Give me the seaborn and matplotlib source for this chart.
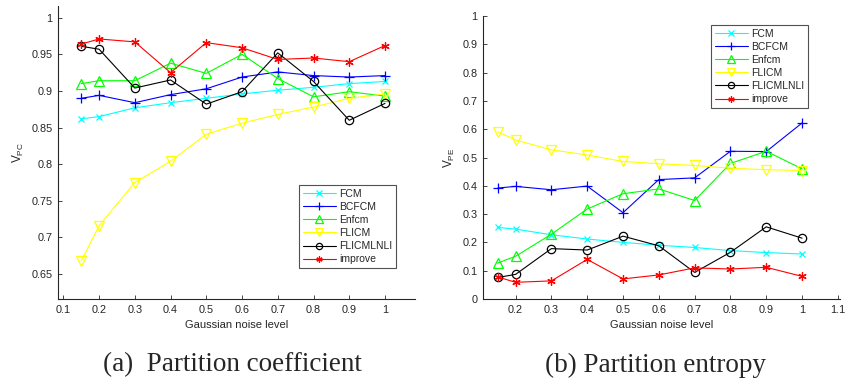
import numpy as np
import pandas as pd
import seaborn as sns
import matplotlib
matplotlib.use("Agg")
import matplotlib.pyplot as plt
from matplotlib.ticker import FuncFormatter

noise = [0.15, 0.2, 0.3, 0.4, 0.5, 0.6, 0.7, 0.8, 0.9, 1.0]
methods = ["FCM", "BCFCM", "Enfcm", "FLICM", "FLICMLNLI", "improve"]

# partition coefficient
pc_fcm = [0.862, 0.865, 0.877, 0.884, 0.890, 0.896, 0.901, 0.905, 0.910, 0.913]
pc_bcfcm = [0.890, 0.894, 0.884, 0.895, 0.903, 0.919, 0.926, 0.921, 0.919, 0.921]
pc_enfcm = [0.910, 0.914, 0.914, 0.938, 0.924, 0.950, 0.917, 0.892, 0.899, 0.893]
pc_flicm = [0.668, 0.716, 0.775, 0.804, 0.841, 0.856, 0.868, 0.878, 0.890, 0.896]
pc_flicmlnli = [0.961, 0.957, 0.904, 0.915, 0.882, 0.899, 0.952, 0.913, 0.860, 0.883]
pc_improve = [0.964, 0.971, 0.967, 0.925, 0.966, 0.959, 0.943, 0.945, 0.940, 0.962]

# partition entropy
pe_fcm = [0.253, 0.247, 0.227, 0.212, 0.200, 0.190, 0.182, 0.171, 0.164, 0.159]
pe_bcfcm = [0.392, 0.398, 0.386, 0.399, 0.305, 0.422, 0.428, 0.522, 0.521, 0.622]
pe_enfcm = [0.127, 0.151, 0.229, 0.318, 0.372, 0.389, 0.348, 0.479, 0.522, 0.460]
pe_flicm = [0.591, 0.562, 0.527, 0.509, 0.486, 0.478, 0.472, 0.462, 0.457, 0.454]
pe_flicmlnli = [0.076, 0.087, 0.178, 0.173, 0.222, 0.188, 0.094, 0.165, 0.255, 0.215]
pe_improve = [0.078, 0.059, 0.064, 0.140, 0.071, 0.085, 0.110, 0.106, 0.112, 0.080]

colors = ["#00ffff", "#0000ff", "#00ff00", "#ffff00", "#000000", "#ff0000"]
markers = ["x", "+", "^", "v", "o", (6, 2, 0)]
msizes = [5, 7, 7, 7, 6, 6]

sns.set_style("ticks", {"xtick.direction": "in", "ytick.direction": "in",
                        "axes.edgecolor": "#262626"})
plt.rcParams["font.family"] = ["Liberation Sans", "DejaVu Sans"]
plt.rcParams["mathtext.fontset"] = "custom"
plt.rcParams["mathtext.rm"] = "Liberation Sans"
plt.rcParams["mathtext.default"] = "regular"

fig = plt.figure(figsize=(8.54, 3.81), dpi=100)
ax1 = fig.add_axes([58 / 854, 1 - 299 / 381, 357 / 854, 293 / 381])
ax2 = fig.add_axes([483 / 854, 1 - 299 / 381, 357 / 854, 283 / 381])


def draw(ax, series):
    for name, vals, c, m, ms in zip(methods, series, colors, markers, msizes):
        sns.lineplot(x=noise, y=vals, ax=ax, color=c, marker=m, mec=c,
                     mfc="none", mew=0.9, ms=ms, lw=0.8, label=name)
    for side in ["top", "right"]:
        ax.spines[side].set_visible(False)
    for side in ["left", "bottom"]:
        ax.spines[side].set_linewidth(0.8)
        ax.spines[side].set_color("#262626")
    ax.tick_params(labelsize=7.8, colors="#262626", length=3, width=0.6, pad=4,
                   top=False, right=False)
    fmt = FuncFormatter(lambda v, p: "%g" % round(v, 2))
    ax.xaxis.set_major_formatter(fmt)
    ax.yaxis.set_major_formatter(fmt)
    ax.set_xlabel("Gaussian noise level", fontsize=8, color="#262626")


draw(ax1, [pc_fcm, pc_bcfcm, pc_enfcm, pc_flicm, pc_flicmlnli, pc_improve])
ax1.set_xlim(0.085, 1.084)
ax1.set_ylim(0.616, 1.016)
ax1.set_xticks(np.arange(0.1, 1.01, 0.1))
ax1.set_yticks(np.arange(0.65, 1.001, 0.05))
ax1.set_ylabel("V$_{PC}$", fontsize=8.5, color="#262626", labelpad=4)

draw(ax2, [pe_fcm, pe_bcfcm, pe_enfcm, pe_flicm, pe_flicmlnli, pe_improve])
ax2.set_xlim(0.109, 1.106)
ax2.set_ylim(0, 1)
ax2.set_xticks(np.arange(0.2, 1.101, 0.1))
ax2.set_yticks(np.arange(0, 1.001, 0.1))
ax2.set_ylabel("V$_{PE}$", fontsize=8.5, color="#262626", labelpad=4)

leg_kw = dict(fontsize=7.5, frameon=True, fancybox=False, labelspacing=0.3,
              handlelength=3.2, handletextpad=0.3, borderpad=0.35,
              borderaxespad=0, edgecolor="#262626", markerscale=0.75)
l1 = ax1.legend(loc="lower right", bbox_to_anchor=(396 / 854, 1 - 268 / 381),
                bbox_transform=fig.transFigure, **leg_kw)
l2 = ax2.legend(loc="upper right", bbox_to_anchor=(808 / 854, 1 - 25 / 381),
                bbox_transform=fig.transFigure, **leg_kw)
for lg in (l1, l2):
    lg.get_frame().set_linewidth(0.8)

fig.text(232 / 854, 1 - 365 / 381, "(a)  Partition coefficient", ha="center",
         va="center", fontsize=19.5, family="Liberation Serif")
fig.text(656 / 854, 1 - 365 / 381, "(b) Partition entropy", ha="center",
         va="center", fontsize=19.5, family="Liberation Serif")

fig.savefig("out.png", dpi=100)
